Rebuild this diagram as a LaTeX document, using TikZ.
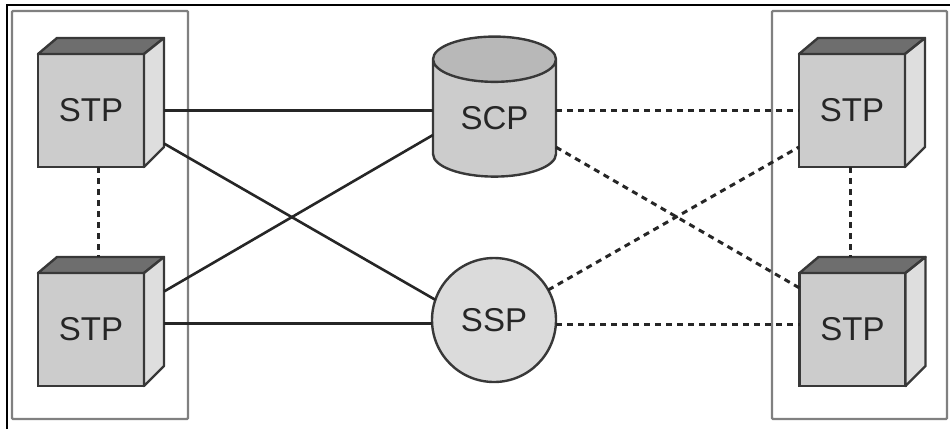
\documentclass[tikz,border=0pt]{standalone}
\usepackage{fontspec}
\setmainfont{Liberation Sans}
\usetikzlibrary{shapes.geometric,calc}
\definecolor{stpfront}{gray}{0.80}
\definecolor{stptop}{gray}{0.43}
\definecolor{stpside}{gray}{0.87}
\definecolor{scptop}{gray}{0.72}
\definecolor{sspfill}{gray}{0.86}
\definecolor{edgegray}{gray}{0.22}
\tikzset{
    label font/.style={font=\fontsize{33}{36}\selectfont, text=black!85},
    stp/.style={rectangle, draw=edgegray, line width=2.4pt, fill=stpfront, inner sep=0pt, outer sep=0pt,
        minimum width=106pt, minimum height=113pt, label font},
    face/.style={draw=edgegray, line width=2.4pt, line join=round},
    group/.style={draw=black!50, line width=2.4pt, rounded corners=1pt},
    link/.style={draw=black!85, line width=2.6pt},
    dotlink/.style={draw=black!85, line width=3pt, dash pattern=on 6pt off 5pt}
}
\begin{document}
\begin{tikzpicture}[x=1pt, y=-1pt]
        \useasboundingbox (0,0) rectangle (950,429);

        % Outer frame and the two groups
        \draw[black, line width=2.2pt] (7,429) -- (7,5) -- (950,5);
        \draw[group] (12,11) rectangle (188,419);
        \draw[group] (772,11) rectangle (947,419);

        % Loop to draw the four cubes, with a point on each right face
        \foreach \cube/\px/\py in {STP1/91/110.5, STP2/91/329.5, STP3/852/110.5, STP4/852.5/329.5} {
            \node[stp] (\cube) at (\px,\py) {STP};
            \draw[face, fill=stptop] (\cube.north west) -- ++(19,-16) -- ++(107,0) -- (\cube.north east) -- cycle;
            \draw[face, fill=stpside] (\cube.north east) -- ++(20,-16) -- ++(0,109) -- (\cube.south east) -- cycle;
            \coordinate (\cube r) at ($(\cube.east)+(20,0)$);
        }

        % The database and the circle in the middle
        \node[cylinder, shape border rotate=90, draw=edgegray, line width=2.4pt, aspect=0.667, inner sep=0pt, outer sep=0pt,
            cylinder uses custom fill, cylinder body fill=stpfront, cylinder end fill=scptop,
            minimum width=123pt, minimum height=140pt, label font] (SCP) at (494.5,118.5) {SCP};
        \node[circle, draw=edgegray, line width=2.4pt, fill=sspfill, inner sep=0pt, outer sep=0pt,
            minimum size=124pt, label font] (SSP) at (494,320) {SSP};

        % Solid links
        \draw[link] (STP1r) -- (STP1r -| SCP.west);
        \draw[link] ($(STP1r)+(0,33)$) -- (SSP.161);
        \draw[link] ($(STP2r)+(0,-38)$) -- (SCP.195);
        \draw[link] ($(STP2r)+(0,-6)$) -- ($(STP2r -| SSP.west)+(0,-6)$);

        % Dotted links
        \draw[dotlink] (SCP.east |- STP3.west) -- (STP3.west);
        \draw[dotlink] (SCP.-25.6) -- ($(STP4.north west)+(0,15)$);
        \draw[dotlink] (SSP.29) -- ($(STP3.south west)+(0,-20)$);
        \draw[dotlink] ($(SSP.east |- STP4.west)+(0,-5)$) -- ($(STP4.west)+(0,-5)$);
        \draw[dotlink] (98,167) -- (98,257);
        \draw[dotlink] (850,167) -- (850,257);

\end{tikzpicture}
\end{document}
